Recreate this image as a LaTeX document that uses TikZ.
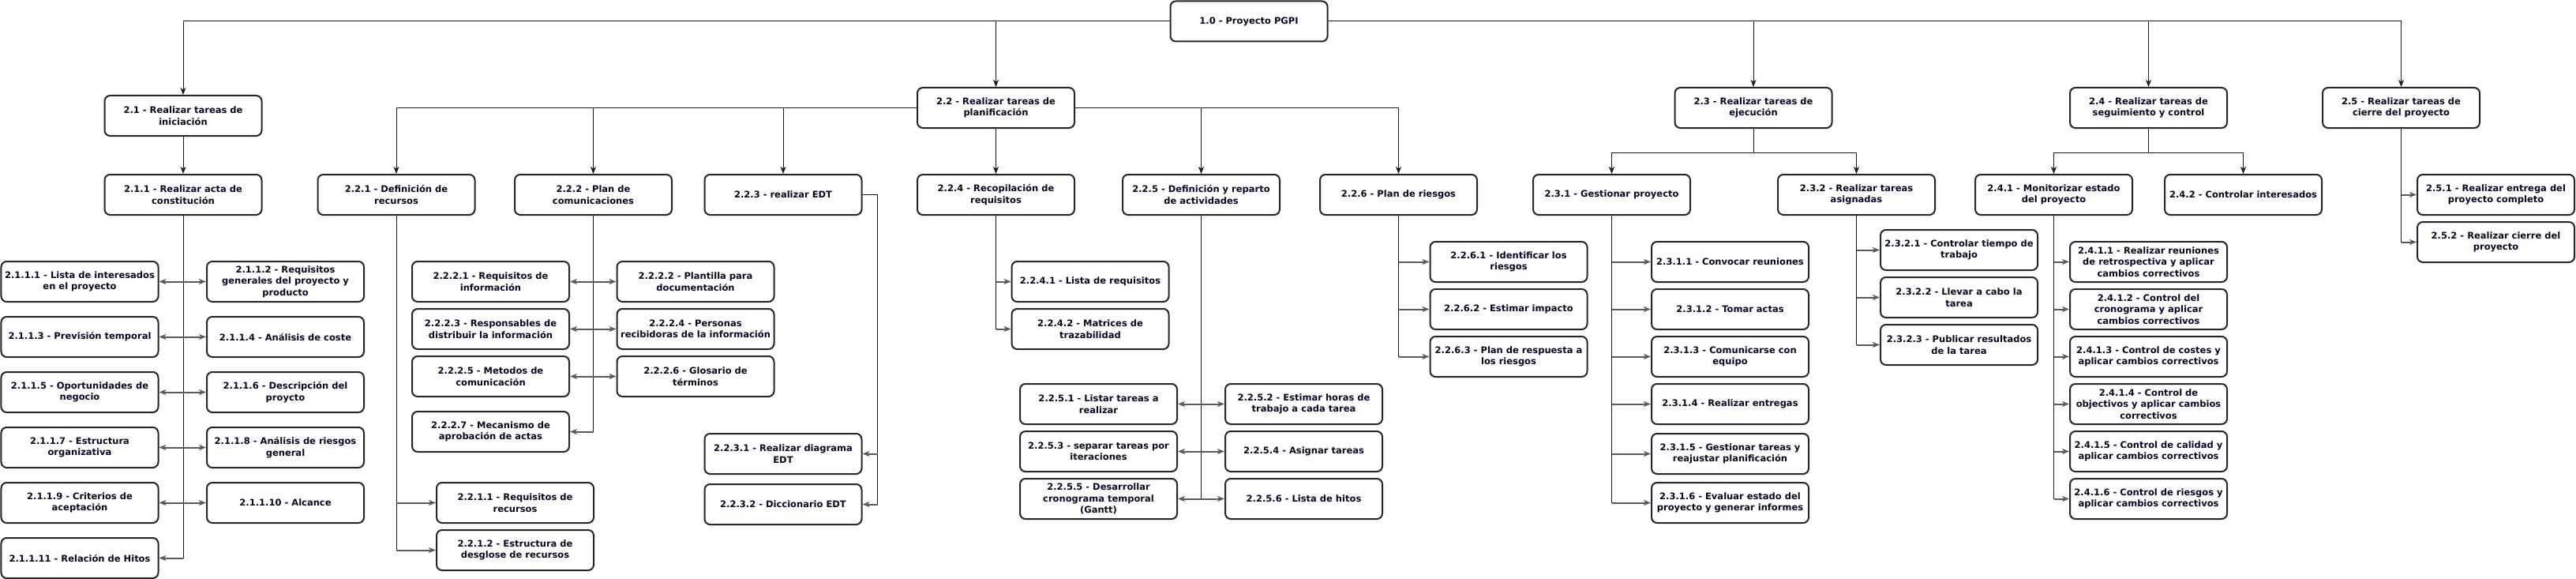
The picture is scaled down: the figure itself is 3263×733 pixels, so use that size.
\documentclass[tikz,border=0pt]{standalone}
\usepackage{fontspec}
\setmainfont{DejaVu Sans}
\usetikzlibrary{arrows.meta}
\definecolor{txt}{RGB}{5,5,35}
\definecolor{edgec}{RGB}{25,25,25}
\definecolor{sidec}{RGB}{90,90,90}
\tikzset{
 box/.style={draw=black!85, line width=2bp, rounded corners=7bp, fill=white, minimum width=199bp, minimum height=51bp, inner sep=1bp, align=center, font=\fontsize{11.5bp}{14.5bp}\selectfont\bfseries, text=txt},
 tree/.style={draw=edgec, line width=1bp, -{Stealth[length=9bp,width=7bp,inset=2.5bp]}},
 trunk/.style={draw=edgec, line width=1bp},
 sidearr/.style={draw=sidec, line width=2bp, -{Stealth[length=9bp,width=7bp,inset=2.5bp]}},
 bidir/.style={draw=sidec, line width=2bp, {Stealth[length=9bp,width=7bp,inset=2.5bp]}-{Stealth[length=9bp,width=7bp,inset=2.5bp]}},
}
\begin{document}
\begin{tikzpicture}[x=1bp,y=-1bp]
\useasboundingbox (0,0) rectangle (3263,733);
% level 0/1
\node[box] (n10) at (1582,27) {1.0 - Proyecto PGPI};
\node[box] (n21) at (232,146.5) {2.1 - Realizar tareas de\\iniciación};
\node[box] (n22) at (1261.5,136.5) {2.2 - Realizar tareas de\\planificación};
\node[box] (n23) at (2221,136.5) {2.3 - Realizar tareas de\\ejecución};
\node[box] (n24) at (2721.5,136.5) {2.4 - Realizar tareas de\\seguimiento y control};
\node[box] (n25) at (3041.5,136.5) {2.5 - Realizar tareas de\\cierre del proyecto};
% level 2
\node[box] (n211) at (232,246.5) {2.1.1 - Realizar acta de\\constitución};
\node[box] (n221) at (502,246.5) {2.2.1 - Definición de\\recursos};
\node[box] (n222) at (751.5,246.5) {2.2.2 - Plan de\\comunicaciones};
\node[box] (n223) at (992,246.5) {2.2.3 - realizar EDT};
\node[box] (n224) at (1261.5,246.5) {2.2.4 - Recopilación de\\requisitos};
\node[box] (n225) at (1521.5,246.5) {2.2.5 - Definición y reparto\\de actividades};
\node[box] (n226) at (1771.5,246.5) {2.2.6 - Plan de riesgos};
\node[box] (n231) at (2041.5,246.5) {2.3.1 - Gestionar proyecto};
\node[box] (n232) at (2351.5,246.5) {2.3.2 - Realizar tareas\\asignadas};
\node[box] (n241) at (2601.5,246.5) {2.4.1 - Monitorizar estado\\del proyecto};
\node[box] (n242) at (2841.5,246.5) {2.4.2 - Controlar interesados};
\node[box] (n251) at (3161.5,246.5) {2.5.1 - Realizar entrega del\\proyecto completo};
\node[box] (n252) at (3161.5,306.5) {2.5.2 - Realizar cierre del\\proyecto};
% 2.1.1.x
\node[box] (n2111) at (101,356.5) {2.1.1.1 - Lista de interesados\\en el proyecto};
\node[box] (n2112) at (361.5,356.5) {2.1.1.2 - Requisitos\\generales del proyecto y\\producto};
\node[box] (n2113) at (101,426.5) {2.1.1.3 - Previsión temporal};
\node[box] (n2114) at (361.5,426.5) {2.1.1.4 - Análisis de coste};
\node[box] (n2115) at (101,496.5) {2.1.1.5 - Oportunidades de\\negocio};
\node[box] (n2116) at (361.5,496.5) {2.1.1.6 - Descripción del\\proycto};
\node[box] (n2117) at (101,566.5) {2.1.1.7 - Estructura\\organizativa};
\node[box] (n2118) at (361.5,566.5) {2.1.1.8 - Análisis de riesgos\\general};
\node[box] (n2119) at (101,636.5) {2.1.1.9 - Criterios de\\aceptación};
\node[box] (n21110) at (361.5,636.5) {2.1.1.10 - Alcance};
\node[box] (n21111) at (101,706.5) {2.1.1.11 - Relación de Hitos};
% 2.2.1.x
\node[box] (n2211) at (652.5,636.5) {2.2.1.1 - Requisitos de\\recursos};
\node[box] (n2212) at (652.5,696.5) {2.2.1.2 - Estructura de\\desglose de recursos};
% 2.2.2.x
\node[box] (n2221) at (621.5,356.5) {2.2.2.1 - Requisitos de\\información};
\node[box] (n2222) at (881,356.5) {2.2.2.2 - Plantilla para\\documentación};
\node[box] (n2223) at (621.5,416.5) {2.2.2.3 - Responsables de\\distribuir la información};
\node[box] (n2224) at (881,416.5) {2.2.2.4 - Personas\\recibidoras de la información};
\node[box] (n2225) at (621.5,476.5) {2.2.2.5 - Metodos de\\comunicación};
\node[box] (n2226) at (881,476.5) {2.2.2.6 - Glosario de\\términos};
\node[box] (n2227) at (621.5,546.5) {2.2.2.7 - Mecanismo de\\aprobación de actas};
% 2.2.3.x
\node[box] (n2231) at (992,574.5) {2.2.3.1 - Realizar diagrama\\EDT};
\node[box] (n2232) at (992,638.5) {2.2.3.2 - Diccionario EDT};
% 2.2.4.x
\node[box] (n2241) at (1381,356.5) {2.2.4.1 - Lista de requisitos};
\node[box] (n2242) at (1381,416.5) {2.2.4.2 - Matrices de\\trazabilidad};
% 2.2.5.x
\node[box] (n2251) at (1391.5,511.5) {2.2.5.1 - Listar tareas a\\realizar};
\node[box] (n2252) at (1651.5,511.5) {2.2.5.2 - Estimar horas de\\trabajo a cada tarea};
\node[box] (n2253) at (1391.5,571.5) {2.2.5.3 - separar tareas por\\iteraciones};
\node[box] (n2254) at (1651.5,571.5) {2.2.5.4 - Asignar tareas};
\node[box] (n2255) at (1391.5,631.5) {2.2.5.5 - Desarrollar\\cronograma temporal\\(Gantt)};
\node[box] (n2256) at (1651.5,631.5) {2.2.5.6 - Lista de hitos};
% 2.2.6.x
\node[box] (n2261) at (1911,331.5) {2.2.6.1 - Identificar los\\riesgos};
\node[box] (n2262) at (1911,391.5) {2.2.6.2 - Estimar impacto};
\node[box] (n2263) at (1911,451.5) {2.2.6.3 - Plan de respuesta a\\los riesgos};
% 2.3.1.x
\node[box] (n2311) at (2191.5,331.5) {2.3.1.1 - Convocar reuniones};
\node[box] (n2312) at (2191.5,391.5) {2.3.1.2 - Tomar actas};
\node[box] (n2313) at (2191.5,451.5) {2.3.1.3 - Comunicarse con\\equipo};
\node[box] (n2314) at (2191.5,511.5) {2.3.1.4 - Realizar entregas};
\node[box] (n2315) at (2191.5,574.5) {2.3.1.5 - Gestionar tareas y\\reajustar planificación};
\node[box] (n2316) at (2191.5,636.5) {2.3.1.6 - Evaluar estado del\\proyecto y generar informes};
% 2.3.2.x
\node[box] (n2321) at (2481.5,316.5) {2.3.2.1 - Controlar tiempo de\\trabajo};
\node[box] (n2322) at (2481.5,376.5) {2.3.2.2 - Llevar a cabo la\\tarea};
\node[box] (n2323) at (2481.5,436.5) {2.3.2.3 - Publicar resultados\\de la tarea};
% 2.4.1.x
\node[box] (n2411) at (2721.5,331.5) {2.4.1.1 - Realizar reuniones\\de retrospectiva y aplicar\\cambios correctivos};
\node[box] (n2412) at (2721.5,391.5) {2.4.1.2 - Control del\\cronograma y aplicar\\cambios correctivos};
\node[box] (n2413) at (2721.5,451.5) {2.4.1.3 - Control de costes y\\aplicar cambios correctivos};
\node[box] (n2414) at (2721.5,511.5) {2.4.1.4 - Control de\\objectivos y aplicar cambios\\correctivos};
\node[box] (n2415) at (2721.5,571.5) {2.4.1.5 - Control de calidad y\\aplicar cambios correctivos};
\node[box] (n2416) at (2721.5,631.5) {2.4.1.6 - Control de riesgos y\\aplicar cambios correctivos};

% ---- edges: top level
\draw[tree] (n10.west) -| (n21.north);
\draw[tree] (n10.west) -| (n22.north);
\draw[tree] (n10.east) -| (n23.north);
\draw[tree] (n10.east) -| (n24.north);
\draw[tree] (n10.east) -| (n25.north);
% 2.1
\draw[tree] (n21.south) -- (n211.north);
% 2.2
\draw[tree] (n22.west) -| (n221.north);
\draw[tree] (n22.west) -| (n222.north);
\draw[tree] (n22.west) -| (n223.north);
\draw[tree] (n22.south) -- (n224.north);
\draw[tree] (n22.east) -| (n225.north);
\draw[tree] (n22.east) -| (n226.north);
% 2.3
\draw[tree] (n23.south) -- ++(0,30) -| (n231.north);
\draw[tree] (n23.south) -- ++(0,30) -| (n232.north);
% 2.4
\draw[tree] (n24.south) -- ++(0,30) -| (n241.north);
\draw[tree] (n24.south) -- ++(0,30) -| (n242.north);
% 2.5
\draw[trunk] (n25.south) -- (n25.south |- n252.west);
\draw[sidearr] (n25.south |- n251.west) -- (n251.west);
\draw[sidearr] (n25.south |- n252.west) -- (n252.west);
% 2.1.1
\draw[trunk] (n211.south) -- (n211.south |- n21111.east);
\draw[sidearr] (n211.south |- n21111.east) -- (n21111.east);
\draw[bidir] (n2111.east) -- (n2112.west);
\draw[bidir] (n2113.east) -- (n2114.west);
\draw[bidir] (n2115.east) -- (n2116.west);
\draw[bidir] (n2117.east) -- (n2118.west);
\draw[bidir] (n2119.east) -- (n21110.west);
% 2.2.1
\draw[trunk] (n221.south) -- (n221.south |- n2212.west);
\draw[sidearr] (n221.south |- n2211.west) -- (n2211.west);
\draw[sidearr] (n221.south |- n2212.west) -- (n2212.west);
% 2.2.2
\draw[trunk] (n222.south) -- (n222.south |- n2227.east);
\draw[sidearr] (n222.south |- n2227.east) -- (n2227.east);
\draw[bidir] (n2221.east) -- (n2222.west);
\draw[bidir] (n2223.east) -- (n2224.west);
\draw[bidir] (n2225.east) -- (n2226.west);
% 2.2.3
\coordinate (c223) at ([xshift=19bp]n223.east);
\draw[trunk] (n223.east) -- (c223) -- (c223 |- n2232.east);
\draw[sidearr] (c223 |- n2231.east) -- (n2231.east);
\draw[sidearr] (c223 |- n2232.east) -- (n2232.east);
% 2.2.4
\draw[trunk] (n224.south) -- (n224.south |- n2242.west);
\draw[sidearr] (n224.south |- n2241.west) -- (n2241.west);
\draw[sidearr] (n224.south |- n2242.west) -- (n2242.west);
% 2.2.5
\draw[trunk] (n225.south) -- (n225.south |- n2256.west);
\draw[bidir] (n2251.east) -- (n2252.west);
\draw[bidir] (n2253.east) -- (n2254.west);
\draw[bidir] (n2255.east) -- (n2256.west);
% 2.2.6
\draw[trunk] (n226.south) -- (n226.south |- n2263.west);
\draw[sidearr] (n226.south |- n2261.west) -- (n2261.west);
\draw[sidearr] (n226.south |- n2262.west) -- (n2262.west);
\draw[sidearr] (n226.south |- n2263.west) -- (n2263.west);
% 2.3.1
\draw[trunk] (n231.south) -- (n231.south |- n2316.west);
\foreach \k in {2311,2312,2313,2314,2315,2316}
  \draw[sidearr] (n231.south |- n\k.west) -- (n\k.west);
% 2.3.2
\draw[trunk] (n232.south) -- (n232.south |- n2323.west);
\foreach \k in {2321,2322,2323}
  \draw[sidearr] (n232.south |- n\k.west) -- (n\k.west);
% 2.4.1
\draw[trunk] (n241.south) -- (n241.south |- n2416.west);
\foreach \k in {2411,2412,2413,2414,2415,2416}
  \draw[sidearr] (n241.south |- n\k.west) -- (n\k.west);
\end{tikzpicture}
\end{document}
